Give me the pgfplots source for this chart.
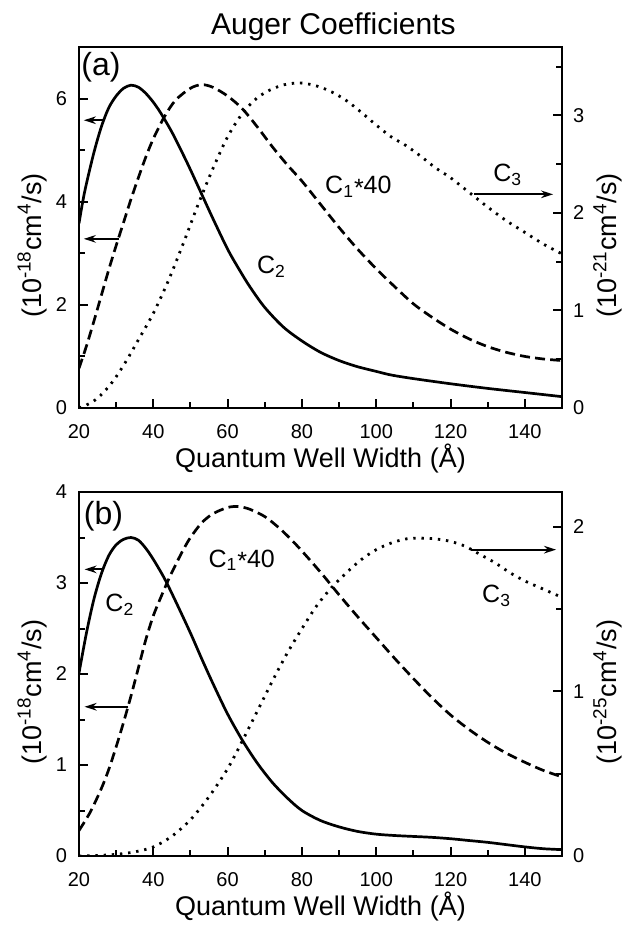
\documentclass[border=0pt]{standalone}
\usepackage{fontspec}
\setmainfont{Liberation Sans}
\usepackage{pgfplots}
\pgfplotsset{compat=1.18}
\usetikzlibrary{arrows.meta}

% C2 (a), left axis
\pgfplotstableread{
x y
20 3.58
21 4.0
22 4.35
24 4.95
26 5.45
28 5.82
30 6.05
32 6.2
34 6.26
36 6.22
38 6.1
40 5.93
42 5.72
45 5.35
48 4.92
50 4.62
53 4.15
56 3.68
60 3.08
63 2.7
66 2.35
70 1.95
75 1.57
80 1.3
85 1.08
90 0.92
95 0.8
100 0.71
104 0.64
110 0.57
120 0.47
130 0.38
140 0.3
150 0.22
}\ctwoa
% C1*40 (a), left axis
\pgfplotstableread{
x y
20 0.77
22 1.2
24 1.68
26 2.18
28 2.68
30 3.15
32 3.6
34 4.05
36 4.47
38 4.87
40 5.22
43 5.65
46 5.97
50 6.2
53 6.27
56 6.22
60 6.05
64 5.8
68 5.45
72 5.07
76 4.72
80 4.4
85 3.95
90 3.5
95 3.08
100 2.7
105 2.35
110 2.02
115 1.76
120 1.53
125 1.34
130 1.19
135 1.08
140 1.0
145 0.95
150 0.92
}\conea
% C3 (a), right axis
\pgfplotstableread{
x y
20 0.0
22 0.03
25 0.1
28 0.22
30 0.32
33 0.5
36 0.7
40 0.97
44 1.3
48 1.68
52 2.08
56 2.45
60 2.78
64 3.02
68 3.18
72 3.27
76 3.32
80 3.33
84 3.3
88 3.24
92 3.15
96 3.03
100 2.9
104 2.78
108 2.69
112 2.58
116 2.46
120 2.36
125 2.21
130 2.06
135 1.92
140 1.8
145 1.68
150 1.58
}\cthreea
% C2 (b), left axis
\pgfplotstableread{
x y
20 2.01
22 2.45
24 2.82
26 3.1
28 3.3
30 3.42
32 3.48
34 3.5
36 3.47
38 3.38
40 3.26
43 3.05
46 2.8
50 2.45
53 2.17
56 1.9
60 1.56
64 1.27
68 1.02
72 0.81
76 0.64
80 0.5
85 0.39
90 0.32
95 0.27
100 0.24
105 0.225
110 0.215
115 0.205
120 0.19
125 0.17
130 0.15
135 0.125
140 0.1
145 0.08
150 0.07
}\ctwob
% C1*40 (b), left axis
\pgfplotstableread{
x y
20 0.28
23 0.48
26 0.74
28 0.95
30 1.2
32 1.47
34 1.76
36 2.07
38 2.38
40 2.64
42 2.84
44 3.03
46 3.2
48 3.36
50 3.5
53 3.66
56 3.76
60 3.83
63 3.84
66 3.81
70 3.73
74 3.6
78 3.44
82 3.26
86 3.07
90 2.87
95 2.63
100 2.4
105 2.17
110 1.95
115 1.74
120 1.55
125 1.39
130 1.25
135 1.13
140 1.03
145 0.94
150 0.87
}\coneb
% C3 (b), right axis
\pgfplotstableread{
x y
20 0
25 0.003
30 0.01
35 0.025
40 0.055
45 0.12
50 0.22
55 0.36
60 0.53
64 0.7
68 0.88
72 1.06
76 1.23
80 1.38
84 1.52
88 1.63
92 1.72
96 1.8
100 1.86
104 1.9
108 1.925
112 1.93
116 1.925
120 1.91
124 1.88
128 1.83
132 1.78
136 1.72
140 1.67
145 1.62
150 1.57
}\cthreeb

\pgfplotsset{
  aug/.style={
    scale only axis, width=241.5pt,
    xmin=20, xmax=150, ymin=0,
    tick align=inside,
    major tick length=4.5pt, minor tick length=2.8pt,
    every tick/.style={black, line width=1pt},
    axis line style={line width=1.1pt},
    tick label style={font=\fontsize{10}{12}\selectfont},
    label style={font=\fontsize{13.5}{16}\selectfont},
    /pgf/number format/assume math mode=true,
  },
  leftax/.style={xtick={20,40,...,140}, minor xtick={30,50,...,150},
    xtick pos=bottom, ytick pos=left,
    xticklabel style={yshift=-4.5pt},
    yticklabel style={xshift=-2.5pt},
    xlabel={Quantum Well Width (Å)},
    ylabel={(10\textsuperscript{-18}cm\textsuperscript{4}/s)},
    xlabel style={at={(axis description cs:0.5,-0.14)}, anchor=center},
    ylabel style={at={(axis description cs:-0.097,0.45)}, anchor=center}},
  rightax/.style={axis x line=none, axis y line*=right,
    yticklabel style={xshift=2pt},
    ylabel style={at={(axis description cs:1.095,0.45)}, anchor=center}},
  solidc/.style={black, line width=1.35pt, smooth},
  dashc/.style={black, line width=1.35pt, smooth, dash pattern=on 5pt off 2.6pt},
  dotc/.style={black, line width=1.4pt, smooth, dash pattern=on 1.2pt off 2.9pt},
}
\tikzset{
  arr/.style={-{Stealth[length=6pt,width=3.8pt]}, line width=0.9pt},
  lab/.style={font=\fontsize{12.5}{14}\selectfont},
  pan/.style={font=\fontsize{16}{18}\selectfont},
}

\begin{document}
\begin{tikzpicture}
\useasboundingbox (0,0) rectangle (319.5pt,466.5pt);
\node[anchor=base, font=\fontsize{15}{17}\selectfont] at (166.7pt,449pt) {Auger Coefficients};

% panel (a)
\begin{axis}[aug, leftax, at={(39.5pt,262.5pt)}, anchor=south west, height=180.5pt,
  ymax=7, ytick={0,2,4,6}, minor ytick={1,3,5}]
\addplot[solidc] table {\ctwoa};
\addplot[dashc] table {\conea};
\draw[arr] (axis cs:26.7,5.58) -- (axis cs:21.3,5.58);
\draw[arr] (axis cs:30.8,3.28) -- (axis cs:21.3,3.28);
\node[pan] at (axis cs:25.9,6.6) {(a)};
\node[lab] at (axis cs:71.8,2.73) {C\textsubscript{2}};
\node[lab] at (axis cs:95.2,4.29) {C\textsubscript{1}\raisebox{-0.2ex}{*}40};
\end{axis}
\begin{axis}[aug, rightax, at={(39.5pt,262.5pt)}, anchor=south west, height=180.5pt,
  ymax=3.7, ytick={0,1,2,3}, minor ytick={0.5,1.5,2.5,3.5},
  ylabel={(10\textsuperscript{-21}cm\textsuperscript{4}/s)}]
\addplot[dotc] table {\cthreea};
\draw[arr] (axis cs:126.3,2.19) -- (axis cs:147.6,2.19);
\node[lab] at (axis cs:135.4,2.39) {C\textsubscript{3}};
\end{axis}

% panel (b)
\begin{axis}[aug, leftax, at={(39.5pt,38.5pt)}, anchor=south west, height=182pt,
  ymax=4, ytick={0,1,2,3,4}, minor ytick={0.5,1.5,2.5,3.5}]
\addplot[solidc] table {\ctwob};
\addplot[dashc] table {\coneb};
\draw[arr] (axis cs:26.5,3.15) -- (axis cs:21.5,3.15);
\draw[arr] (axis cs:33.3,1.64) -- (axis cs:21.5,1.64);
\node[pan] at (axis cs:26.6,3.73) {(b)};
\node[lab] at (axis cs:31,2.76) {C\textsubscript{2}};
\node[lab] at (axis cs:63.8,3.25) {C\textsubscript{1}\raisebox{-0.2ex}{*}40};
\end{axis}
\begin{axis}[aug, rightax, at={(39.5pt,38.5pt)}, anchor=south west, height=182pt,
  ymax=2.21, ytick={0,1,2}, minor ytick={0.5,1.5},
  ylabel={(10\textsuperscript{-25}cm\textsuperscript{4}/s)}]
\addplot[dotc] table {\cthreeb};
\draw[arr] (axis cs:125.4,1.86) -- (axis cs:148.4,1.86);
\node[lab] at (axis cs:132.4,1.58) {C\textsubscript{3}};
\end{axis}
\end{tikzpicture}
\end{document}
